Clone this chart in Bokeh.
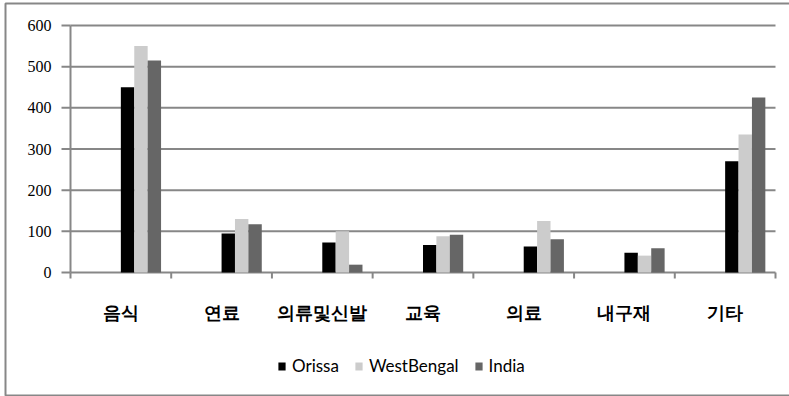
from bokeh.plotting import figure
from bokeh.models import Range1d, Legend, LegendItem
from bokeh.embed import file_html
from bokeh.resources import INLINE

# Monthly per-capita expenditure by item
categories = ["음식", "연료", "의류및신발", "교육", "의료", "내구재", "기타"]
orissa = [450, 95, 73, 67, 63, 48, 270]
west_bengal = [550, 130, 100, 88, 125, 41, 335]
india = [515, 117, 19, 92, 81, 59, 425]
series_names = ["Orissa", "WestBengal", "India"]
series_colors = ["#000000", "#cccccc", "#666666"]
y_ticks = [0, 100, 200, 300, 400, 500, 600]

W, H = 789, 396
GRID = "#878787"

# plot area inside the canvas (pixels)
AX_L, AX_R, AX_T, AX_B = 70, 775, 25, 272
n = len(categories)
y_max = y_ticks[-1]
kx = (AX_R - AX_L) / n          # pixels per category
ky = (AX_B - AX_T) / y_max      # pixels per unit


def dx(px):
    """canvas pixel offset -> x data units"""
    return px / kx


def dy(px):
    """canvas pixel offset -> y data units"""
    return px / ky


# the frame fills the whole canvas; axes and legend are drawn inside it
p = figure(width=W, height=H, output_backend="svg", toolbar_location=None,
           x_range=Range1d(-dx(AX_L), n + dx(W - AX_R)),
           y_range=Range1d(-dy(H - AX_B), y_max + dy(AX_T)),
           min_border=0, min_border_left=0, min_border_right=0,
           min_border_top=0, min_border_bottom=0)
p.axis.visible = False
p.grid.visible = False
p.outline_line_color = None
p.background_fill_color = "white"
p.border_fill_color = "white"

# chart border (left, top, bottom)
bx0, bx1 = -dx(AX_L - 5), n + dx(W - AX_R + 10)
by_top, by_bot = y_max + dy(AX_T - 3), -dy(395 - AX_B)
p.line(x=[bx1, bx0, bx0, bx1], y=[by_top, by_top, by_bot, by_bot],
       line_color=GRID, line_width=2)

# horizontal gridlines
p.segment(x0=[0] * len(y_ticks), x1=[n] * len(y_ticks), y0=y_ticks, y1=y_ticks,
          line_color=GRID, line_width=2)

# y axis line, ticks and labels
p.segment(x0=[0], x1=[0], y0=[0], y1=[y_max], line_color=GRID, line_width=2)
p.segment(x0=[-dx(9)] * len(y_ticks), x1=[0] * len(y_ticks),
          y0=y_ticks, y1=y_ticks, line_color=GRID, line_width=2)
p.text(x=[-dx(19)] * len(y_ticks), y=y_ticks, text=[str(t) for t in y_ticks],
       text_align="right", text_baseline="middle", text_font="Lato",
       text_font_size="16px", text_color="#000000")

# x axis ticks between categories and category labels
bounds = list(range(n + 1))
p.segment(x0=bounds, x1=bounds, y0=[0] * len(bounds),
          y1=[-dy(6)] * len(bounds), line_color=GRID, line_width=2)
p.text(x=[i + 0.5 for i in range(n)], y=[-dy(312 - AX_B)] * n, text=categories,
       text_align="center", text_baseline="middle",
       text_font="Noto Sans CJK KR", text_font_style="bold",
       text_font_size="18px", text_color="#000000")

# bars sit to the right of each category centre
bar_w = dx(13.4)
renderers = []
for k, (vals, col) in enumerate(zip([orissa, west_bengal, india], series_colors)):
    xs = [i + 0.5 + bar_w * (k + 0.5) for i in range(n)]
    r = p.vbar(x=xs, top=vals, bottom=0, width=bar_w, fill_color=col,
               line_color=None)
    renderers.append(r)

legend = Legend(items=[LegendItem(label=s, renderers=[r])
                       for s, r in zip(series_names, renderers)],
                orientation="horizontal", location=(277, H - 376),
                glyph_width=9, glyph_height=10, label_standoff=6, spacing=15,
                padding=0, margin=0, border_line_color=None,
                background_fill_alpha=0, label_text_font="Lato",
                label_text_font_size="17px", label_height=17,
                label_text_color="#000000")
p.add_layout(legend)

open("out.html", "w").write(file_html(p, INLINE))
